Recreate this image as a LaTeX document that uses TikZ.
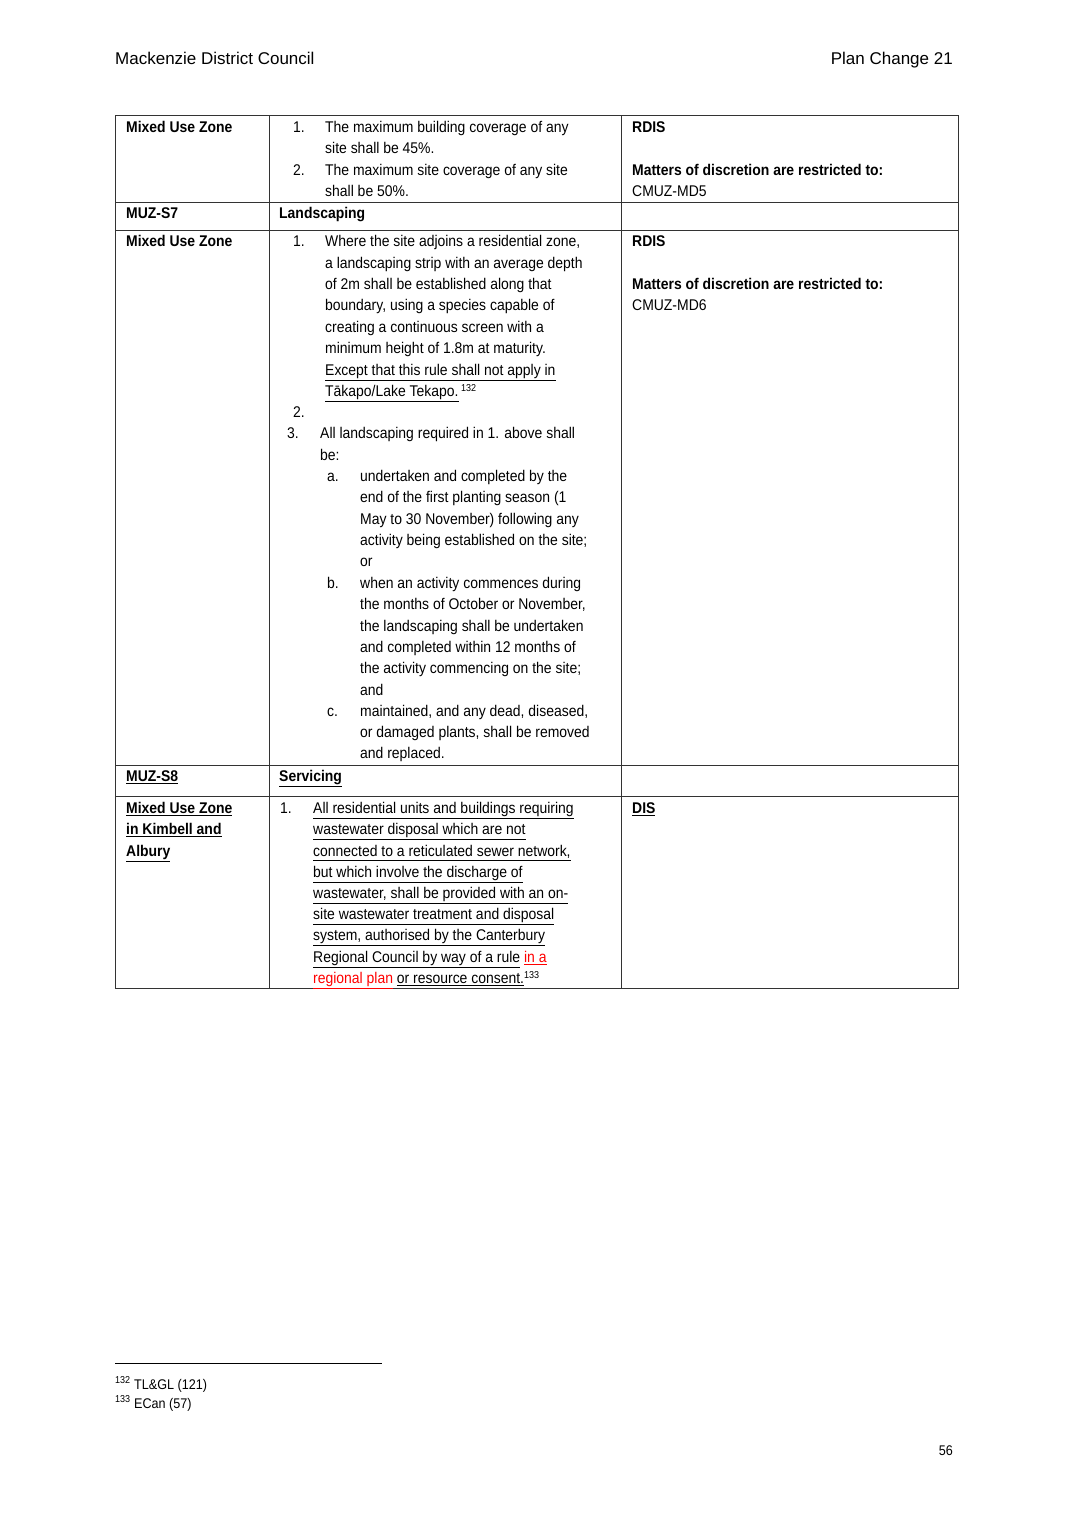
\documentclass[tikz,border=0pt]{standalone}
\usepackage{fontspec}
\setmainfont{Liberation Sans}[FakeStretch=0.9]
\newfontfamily\hdr{Liberation Sans}
\newcommand\tl[3]{\node[tx] at (#1,#2+5.5) {#3};}
\newcommand\ul[1]{\underline{#1}}
\newcommand\sps[1]{\textsuperscript{\fontsize{10}{10}\selectfont #1}}
\begin{document}
\begin{tikzpicture}[x=1pt,y=-1pt,tx/.style={anchor=base west,inner sep=0,font=\fontsize{15.5}{18}\selectfont},
  rule/.style={line width=0.8pt,black!80}]
\useasboundingbox[fill=white] (0,0) rectangle (1069,1527);
\node[anchor=base west,inner sep=0,font=\hdr\fontsize{17}{20}\selectfont] at (115,64) {Mackenzie District Council};
\node[anchor=base east,inner sep=0,font=\hdr\fontsize{17}{20}\selectfont] at (953,64) {Plan Change 21};
% table grid
\draw[rule] (115,115) rectangle (958,988);
\foreach \y in {202,230,765,796} \draw[rule] (115,\y) -- (958,\y);
\draw[rule] (269,115) -- (269,988);
\draw[rule] (621,115) -- (621,988);
% row 1
\tl{126}{127}{\bfseries Mixed Use Zone}
\tl{293}{127}{1.}\tl{325}{127}{The maximum building coverage of any}
\tl{325}{148}{site shall be 45\%.}
\tl{293}{170}{2.}\tl{325}{170}{The maximum site coverage of any site}
\tl{325}{191}{shall be 50\%.}
\tl{632}{127}{\bfseries RDIS}
\tl{632}{170}{\bfseries Matters of discretion are restricted to:}
\tl{632}{191}{CMUZ-MD5}
% row 2
\tl{126}{213}{\bfseries MUZ-S7}
\tl{279}{213}{\bfseries Landscaping}
% row 3
\tl{126}{241}{\bfseries Mixed Use Zone}
\tl{632}{241}{\bfseries RDIS}
\tl{632}{284}{\bfseries Matters of discretion are restricted to:}
\tl{632}{305}{CMUZ-MD6}
\tl{293}{241}{1.}\tl{325}{241}{Where the site adjoins a residential zone,}
\tl{325}{263}{a landscaping strip with an average depth}
\tl{325}{284}{of 2m shall be established along that}
\tl{325}{305}{boundary, using a species capable of}
\tl{325}{327}{creating a continuous screen with a}
\tl{325}{348}{minimum height of 1.8m at maturity.}
\tl{325}{370}{\ul{Except that this rule shall not apply in}}
\tl{325}{391}{\ul{Tākapo/Lake Tekapo.}\,\sps{132}}
\tl{293}{412}{2.}
\tl{287}{433}{3.}\tl{320}{433}{All landscaping required in 1. above shall}
\tl{320}{455}{be:}
\tl{327}{476}{a.}\tl{360}{476}{undertaken and completed by the}
\tl{360}{497}{end of the first planting season (1}
\tl{360}{519}{May to 30 November) following any}
\tl{360}{540}{activity being established on the site;}
\tl{360}{561}{or}
\tl{327}{583}{b.}\tl{360}{583}{when an activity commences during}
\tl{360}{604}{the months of October or November,}
\tl{360}{626}{the landscaping shall be undertaken}
\tl{360}{647}{and completed within 12 months of}
\tl{360}{668}{the activity commencing on the site;}
\tl{360}{690}{and}
\tl{327}{711}{c.}\tl{360}{711}{maintained, and any dead, diseased,}
\tl{360}{732}{or damaged plants, shall be removed}
\tl{360}{753}{and replaced.}
% row 4
\tl{126}{776}{\bfseries\ul{MUZ-S8}}
\tl{279}{776}{\bfseries\ul{Servicing}}
% row 5
\tl{126}{808}{\bfseries\ul{Mixed Use Zone}}
\tl{126}{829}{\bfseries\ul{in Kimbell and}}
\tl{126}{851}{\bfseries\ul{Albury}}
\tl{632}{808}{\bfseries\ul{DIS}}
\tl{280}{808}{1.}\tl{313}{808}{\ul{All residential units and buildings requiring}}
\tl{313}{829}{\ul{wastewater disposal which are not}}
\tl{313}{851}{\ul{connected to a reticulated sewer network,}}
\tl{313}{872}{\ul{but which involve the discharge of}}
\tl{313}{893}{\ul{wastewater, shall be provided with an on-}}
\tl{313}{914}{\ul{site wastewater treatment and disposal}}
\tl{313}{935}{\ul{system, authorised by the Canterbury}}
\tl{313}{957}{\ul{Regional Council by way of a rule} \textcolor{red}{\ul{in a}}}
\tl{313}{978}{\textcolor{red}{\ul{regional plan}} \ul{or resource consent.}\sps{133}}
% footnotes
\draw[line width=0.8pt] (115,1363) -- (382,1363);
\node[tx,font=\fontsize{14}{16}\selectfont] at (115,1389) {\sps{132} TL\&GL (121)};
\node[tx,font=\fontsize{14}{16}\selectfont] at (115,1408) {\sps{133} ECan (57)};
\node[anchor=base east,inner sep=0,font=\fontsize{14}{16}\selectfont] at (953,1455) {56};
\end{tikzpicture}
\end{document}
